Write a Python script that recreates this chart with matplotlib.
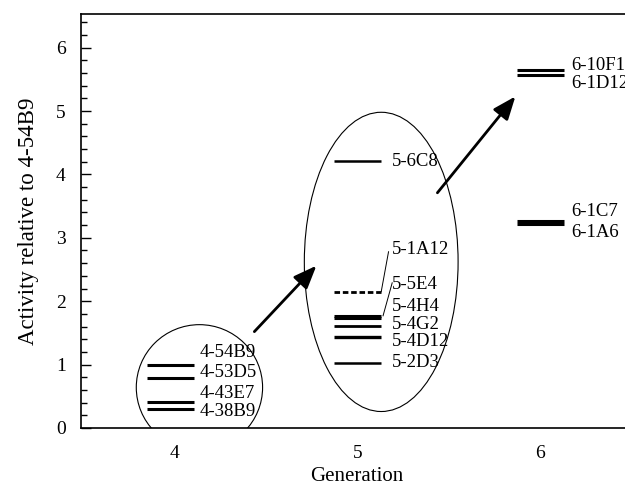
import matplotlib
matplotlib.use("Agg")
import matplotlib.pyplot as plt
from matplotlib.patches import Ellipse
from matplotlib.ticker import MultipleLocator

# ---- data ----
gen4_names = ["4-54B9", "4-53D5", "4-43E7", "4-38B9"]
gen4_values = [1.00, 0.79, 0.41, 0.30]

gen5_names = ["5-6C8", "5-1A12", "5-5E4", "5-4H4", "5-4G2", "5-4D12", "5-2D3"]
gen5_values = [4.21, 2.15, 1.77, 1.74, 1.61, 1.43, 1.02]

gen6_names = ["6-10F1", "6-1D12", "6-1C7", "6-1A6"]
gen6_values = [5.65, 5.56, 3.26, 3.22]

generations = [4, 5, 6]
x_ticklabels = ["4", "5", "6"]
y_ticks = [0, 1, 2, 3, 4, 5, 6]

# ---- layout (label positions, not data) ----
gen4_label_y = [1.19, 0.87, 0.55, 0.26]
gen5_label_y = [4.21, 2.81, 2.26, 1.92, 1.64, 1.36, 1.03]
gen6_label_y = [5.71, 5.44, 3.41, 3.09]
gen5_styles = ["-", (0, (2, 1)), "-", "-", "-", "-", "-"]
gen5_lw = [1.8, 2.0, 2.2, 2.2, 2.0, 2.4, 1.8]

plt.rcParams['font.family'] = ['Liberation Serif', 'DejaVu Serif']
plt.rcParams['mathtext.fontset'] = 'stix'

fig = plt.figure(figsize=(6.25, 4.97), dpi=100)
ax = fig.add_axes([81/625, 69/497, 551/625, 414/497])

half = 0.13
fs = 13.5

def draw_gen(g, names, values, label_y, styles=None, lws=None, lx=0.17, shift=0.0):
    for i, (n, v, ly) in enumerate(zip(names, values, label_y)):
        ls = styles[i] if styles else "-"
        lw = lws[i] if lws else 2.2
        ax.hlines(v, g - half + shift, g + half + shift, colors="black", linestyles=[ls], lw=lw)
        ax.text(g + lx, ly, n, fontsize=fs, va="center", ha="left")

draw_gen(generations[0], gen4_names, gen4_values, gen4_label_y, lx=0.14, shift=-0.02)
draw_gen(generations[1], gen5_names, gen5_values, gen5_label_y, gen5_styles, gen5_lw, lx=0.19)
draw_gen(generations[2], gen6_names, gen6_values, gen6_label_y, lx=0.17)

# leader lines for 5-1A12 and 5-5E4
ax.plot([5 + half, 5.17], [gen5_values[1], 2.78], color="black", lw=0.7)
ax.plot([5 + half + 0.01, 5.19], [gen5_values[2], 2.29], color="black", lw=0.7)

# ellipses
ax.add_patch(Ellipse((4.137, 0.64), 0.69, 1.98, fill=False, lw=0.8, ec="black"))
ax.add_patch(Ellipse((5.13, 2.62), 0.84, 4.72, fill=False, lw=0.8, ec="black"))

# arrows
arrow_kw = dict(arrowstyle="-|>,head_length=1.0,head_width=0.4", color="black", lw=2.0,
                shrinkA=0, shrinkB=0, mutation_scale=14)
ax.annotate("", xy=(4.776, 2.56), xytext=(4.437, 1.52), arrowprops=arrow_kw)
ax.annotate("", xy=(5.863, 5.23), xytext=(5.437, 3.71), arrowprops=arrow_kw)

ax.set_xlim(3.49, 6.5)
ax.set_ylim(0, 6.53)
ax.set_xticks(generations)
ax.set_xticklabels(x_ticklabels, fontsize=14)
ax.set_yticks(y_ticks)
ax.set_yticklabels([str(t) for t in y_ticks], fontsize=14)
ax.yaxis.set_minor_locator(MultipleLocator(0.2))
ax.tick_params(axis="y", which="major", direction="in", length=7, width=1, pad=11)
ax.tick_params(axis="y", which="minor", direction="in", length=4, width=1)
ax.tick_params(axis="x", which="both", length=0, pad=12)
for s in ax.spines.values():
    s.set_linewidth(1.2)

ax.set_xlabel("Generation", fontsize=15, labelpad=4)
ax.set_ylabel("Activity relative to 4-54B9", fontsize=16.5, labelpad=12)

fig.savefig("out.png", dpi=100)
